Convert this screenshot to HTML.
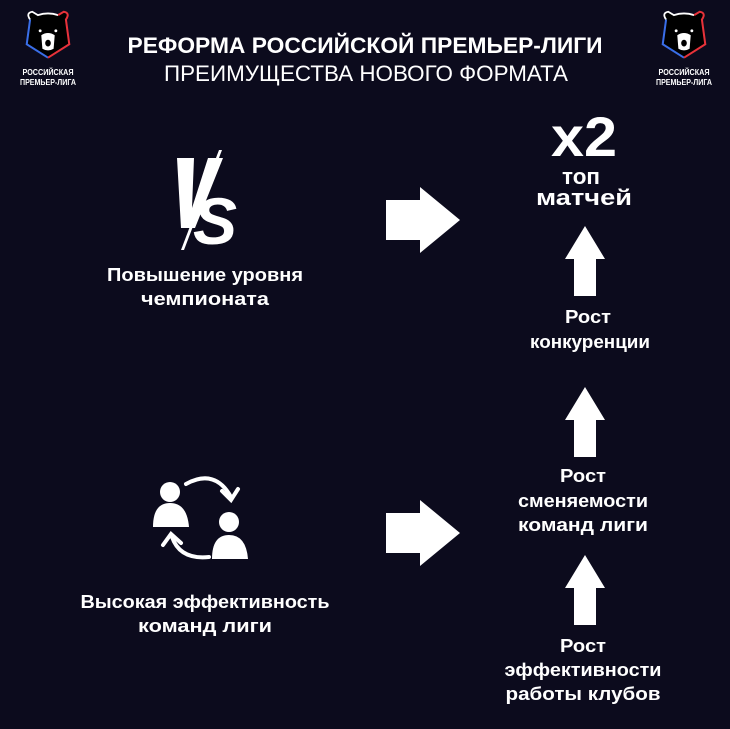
<!DOCTYPE html>
<html><head><meta charset="utf-8"><style>
html,body{margin:0;padding:0;background:#0c0b1d;}
svg{display:block}
text{font-family:"Liberation Sans","DejaVu Sans",sans-serif;fill:#fff;}
.b{font-weight:bold;font-size:18px;text-anchor:middle}
</style></head><body>
<svg width="730" height="729" viewBox="0 0 730 729" xmlns="http://www.w3.org/2000/svg">
<rect width="730" height="729" fill="#0c0b1d"/>
<defs>
<g id="shield">
 <path d="M-16,-20 Q-20,-26 -14,-27 L-9,-24 Q0,-27 9,-24 L14,-27 Q20,-26 16,-20 L19,2 L0,14 L-19,2 Z" fill="#000"/>
 <path d="M-16,-20 Q-20,-26 -14,-27 L-9,-24 Q0,-27 9,-24" fill="none" stroke="#fff" stroke-width="1.6"/>
 <path d="M-16,-20 L-19,2 L0,14" fill="none" stroke="#3a6ee8" stroke-width="1.8"/>
 <path d="M9,-24 L14,-27 Q20,-26 16,-20 L19,2 L0,14" fill="none" stroke="#e8323a" stroke-width="1.8"/>
 <path d="M-6,-6 Q0,-10 6,-6 L5,6 Q0,9 -5,6 Z" fill="#fff"/>
 <circle cx="-7" cy="-10" r="1.3" fill="#fff"/><circle cx="7" cy="-10" r="1.3" fill="#fff"/>
 <ellipse cx="0" cy="1" rx="2.5" ry="3" fill="#000"/>
</g>
<g id="logo">
 <use href="#shield" transform="translate(0,-3) scale(1.12)"/>
 <text x="0" y="30" font-size="8" font-weight="bold" text-anchor="middle" textLength="51" lengthAdjust="spacingAndGlyphs">РОССИЙСКАЯ</text>
 <text x="0" y="40" font-size="8" font-weight="bold" text-anchor="middle" textLength="56" lengthAdjust="spacingAndGlyphs">ПРЕМЬЕР-ЛИГА</text>
</g>
<g id="ra"><path d="M0,13 L34,13 L34,0 L74,33 L34,66 L34,53 L0,53 Z" fill="#fff"/></g>
<g id="ua"><path d="M0,33 L20,0 L40,33 L31,33 L31,70 L9,70 L9,33 Z" fill="#fff"/></g>
</defs>
<use href="#logo" x="48" y="45"/>
<use href="#logo" x="684" y="45"/>
<text x="365" y="53" font-size="22" font-weight="bold" text-anchor="middle" textLength="475" lengthAdjust="spacingAndGlyphs">РЕФОРМА РОССИЙСКОЙ ПРЕМЬЕР-ЛИГИ</text>
<text x="366" y="81" font-size="22" text-anchor="middle" textLength="404" lengthAdjust="spacingAndGlyphs">ПРЕИМУЩЕСТВА НОВОГО ФОРМАТА</text>
<g fill="#fff">
 <path d="M177,158 L194,158 L192,208 L208,158 L223,158 L195,228 L181,228 Z"/>
 <path d="M219,150 L222,150 L184,250 L181,250 Z"/>
 <text x="215" y="244" font-size="66" font-weight="bold" font-style="italic" text-anchor="middle">S</text>
</g>
<text class="b" x="205" y="281" textLength="196" lengthAdjust="spacingAndGlyphs">Повышение уровня</text>
<text class="b" x="205" y="305" textLength="128" lengthAdjust="spacingAndGlyphs">чемпионата</text>
<g fill="#fff">
 <circle cx="170" cy="492" r="10"/>
 <path d="M153,527 Q153,503 170,503 Q187,503 189,527 Z"/>
 <circle cx="229" cy="522" r="10"/>
 <path d="M212,559 Q212,535 229,535 Q246,535 248,559 Z"/>
</g>
<g fill="none" stroke="#fff" stroke-width="4" stroke-linecap="round">
 <path d="M186,484 Q215,468 231,497"/>
 <path d="M222,491 L231,500 L238,489"/>
 <path d="M209,557 Q180,560 172,537"/>
 <path d="M163,545 L171,534 L181,543"/>
</g>
<text class="b" x="205" y="608" textLength="249" lengthAdjust="spacingAndGlyphs">Высокая эффективность</text>
<text class="b" x="205" y="632" textLength="134" lengthAdjust="spacingAndGlyphs">команд лиги</text>
<use href="#ra" x="386" y="187"/>
<use href="#ra" x="386" y="500"/>
<text x="584" y="156" font-size="56" font-weight="bold" text-anchor="middle" textLength="66" lengthAdjust="spacingAndGlyphs">x2</text>
<text class="b" x="581" y="184" style="font-size:22px" textLength="38" lengthAdjust="spacingAndGlyphs">топ</text>
<text class="b" x="584" y="205" style="font-size:22px" textLength="96" lengthAdjust="spacingAndGlyphs">матчей</text>
<use href="#ua" x="565" y="226"/>
<text class="b" x="588" y="323" textLength="46" lengthAdjust="spacingAndGlyphs">Рост</text>
<text class="b" x="590" y="348" textLength="120" lengthAdjust="spacingAndGlyphs">конкуренции</text>
<use href="#ua" x="565" y="387"/>
<text class="b" x="583" y="482" textLength="46" lengthAdjust="spacingAndGlyphs">Рост</text>
<text class="b" x="583" y="507" textLength="130" lengthAdjust="spacingAndGlyphs">сменяемости</text>
<text class="b" x="583" y="531" textLength="130" lengthAdjust="spacingAndGlyphs">команд лиги</text>
<use href="#ua" x="565" y="555"/>
<text class="b" x="583" y="652" textLength="46" lengthAdjust="spacingAndGlyphs">Рост</text>
<text class="b" x="583" y="676" textLength="157" lengthAdjust="spacingAndGlyphs">эффективности</text>
<text class="b" x="583" y="700" textLength="155" lengthAdjust="spacingAndGlyphs">работы клубов</text>
</svg>
</body></html>
